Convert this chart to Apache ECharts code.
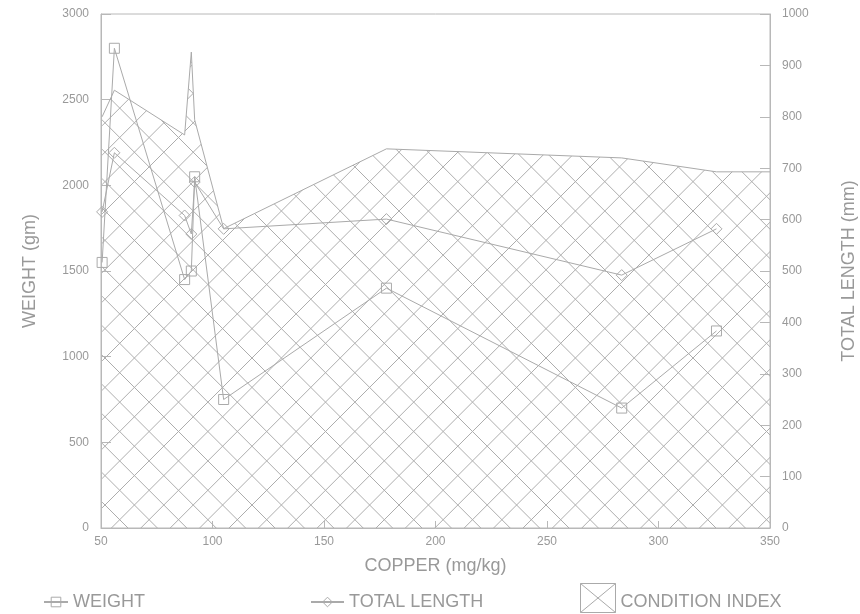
<!DOCTYPE html>
<html>
<head>
<meta charset="utf-8">
<script src="https://cdn.jsdelivr.net/npm/echarts@6/dist/echarts.min.js"></script>
<style>
  html, body { margin: 0; padding: 0; background: #fff; }
  #container { width: 860px; height: 614px; }
</style>
</head>
<body>
<div id="container"></div>
<script>
// copper concentration (mg/kg) for each fish
var copper = [50.5, 56, 87.5, 90.5, 92, 105, 178, 283.5, 326];
var weight = [1550, 2800, 1450, 1500, 2050, 750, 1400, 700, 1150];
var totalLength = [615, 730, 608, 572, 673, 582, 601, 492, 582];
// condition index, hatched area (runs flat to the right edge)
var ciCopper = [50.5, 56, 87.5, 90.5, 92, 105, 178, 283.5, 326, 350];
var conditionIndex = [0.68, 0.724, 0.65, 0.787, 0.675, 0.495, 0.627, 0.612, 0.589, 0.589];

var textGrey = '#999';
var lineGrey = '#aaa';
var axisGrey = '#b8b8b8';
var fontFam = '"Liberation Sans", Arial, sans-serif';

function pairs(xs, ys) {
    var out = [];
    for (var i = 0; i < xs.length; i++) {
        out.push([xs[i], ys[i]]);
    }
    return out;
}

function plain(v) {
    return String(v);
}

// cross hatch tile, 5 cells of 29.4px so the repeat stays seamless
function hatchTile() {
    var s = 29.4, size = 147;
    var c = document.createElement('canvas');
    c.width = size;
    c.height = size;
    var ctx = c.getContext('2d');
    ctx.strokeStyle = '#adadad';
    ctx.lineWidth = 1;
    ctx.beginPath();
    for (var k = -14; k <= 14; k++) {
        var a = 11.6 + k * s;
        ctx.moveTo(a - 10, -10);
        ctx.lineTo(a + size + 10, size + 10);
        var b = 22 + k * s;
        ctx.moveTo(b + 10, -10);
        ctx.lineTo(b - size - 10, size + 10);
    }
    ctx.stroke();
    return c;
}

var myChart = echarts.init(document.getElementById('container'));

var legendText = { color: textGrey, fontSize: 18, fontFamily: fontFam };

var option = {
    animation: false,
    backgroundColor: '#fff',
    textStyle: { fontFamily: fontFam },
    grid: {
        left: 101,
        right: 90,
        top: 14,
        bottom: 86,
        outerBoundsMode: 'none',
        show: true,
        borderColor: axisGrey,
        borderWidth: 1
    },
    legend: [
        {
            data: [{ name: 'WEIGHT', itemStyle: { color: 'transparent', borderColor: lineGrey, borderWidth: 1 } }],
            left: 38,
            top: 588,
            itemWidth: 24,
            itemHeight: 12,
            textStyle: legendText
        },
        {
            data: [{ name: 'TOTAL LENGTH', itemStyle: { color: 'transparent', borderColor: lineGrey, borderWidth: 1 } }],
            left: 305,
            top: 588,
            itemWidth: 33,
            itemHeight: 12,
            textStyle: legendText
        },
        {
            data: [{
                name: 'CONDITION INDEX',
                icon: 'path://M0,0L35,0L35,29L0,29Z M0,0L35,29 M35,0L0,29',
                itemStyle: { color: 'transparent', borderColor: lineGrey, borderWidth: 1 }
            }],
            left: 575,
            top: 578,
            itemWidth: 35,
            itemHeight: 29,
            formatter: '{t|{name}}',
            textStyle: {
                color: textGrey,
                fontSize: 18,
                fontFamily: fontFam,
                rich: { t: { color: textGrey, fontSize: 18, fontFamily: fontFam, padding: [8, 0, 0, 0] } }
            }
        }
    ],
    xAxis: {
        type: 'value',
        min: 50,
        max: 350,
        interval: 50,
        name: 'COPPER (mg/kg)',
        nameLocation: 'middle',
        nameGap: 29,
        nameTextStyle: { color: textGrey, fontSize: 18 },
        axisLine: { lineStyle: { color: axisGrey } },
        axisTick: { inside: true, length: 7, lineStyle: { color: axisGrey } },
        axisLabel: { color: textGrey, fontSize: 12, margin: 8, formatter: plain },
        splitLine: { show: false }
    },
    yAxis: [
        {
            type: 'value',
            min: 0,
            max: 3000,
            interval: 500,
            name: 'WEIGHT (gm)',
            nameLocation: 'middle',
            nameGap: 62,
            nameTextStyle: { color: textGrey, fontSize: 18 },
            axisLine: { show: true, lineStyle: { color: axisGrey } },
            axisTick: { show: true, inside: true, length: 10, lineStyle: { color: axisGrey } },
            axisLabel: { color: textGrey, fontSize: 12, margin: 12, formatter: plain },
            splitLine: { show: false }
        },
        {
            type: 'value',
            min: 0,
            max: 1000,
            interval: 100,
            position: 'right',
            name: 'TOTAL LENGTH (mm)',
            nameLocation: 'middle',
            nameGap: 70,
            nameTextStyle: { color: textGrey, fontSize: 18 },
            axisLine: { show: true, lineStyle: { color: axisGrey } },
            axisTick: { show: true, inside: true, length: 10, lineStyle: { color: axisGrey } },
            axisLabel: { color: textGrey, fontSize: 12, margin: 12, formatter: plain },
            splitLine: { show: false }
        },
        {
            type: 'value',
            min: 0,
            max: 0.85,
            show: false,
            splitLine: { show: false }
        }
    ],
    series: [
        {
            name: 'CONDITION INDEX',
            type: 'line',
            yAxisIndex: 2,
            symbol: 'none',
            lineStyle: { color: lineGrey, width: 1 },
            itemStyle: { color: lineGrey },
            areaStyle: { color: { image: hatchTile(), repeat: 'repeat' }, opacity: 1 },
            data: pairs(ciCopper, conditionIndex),
            z: 1
        },
        {
            name: 'WEIGHT',
            type: 'line',
            yAxisIndex: 0,
            symbol: 'rect',
            symbolSize: 10,
            showAllSymbol: true,
            lineStyle: { color: lineGrey, width: 1 },
            itemStyle: { color: 'transparent', borderColor: lineGrey, borderWidth: 1 },
            data: pairs(copper, weight),
            z: 3
        },
        {
            name: 'TOTAL LENGTH',
            type: 'line',
            yAxisIndex: 1,
            symbol: 'diamond',
            symbolSize: 11,
            showAllSymbol: true,
            lineStyle: { color: lineGrey, width: 1 },
            itemStyle: { color: 'transparent', borderColor: lineGrey, borderWidth: 1 },
            data: pairs(copper, totalLength),
            z: 3
        }
    ]
};

myChart.setOption(option);
</script>
</body>
</html>
